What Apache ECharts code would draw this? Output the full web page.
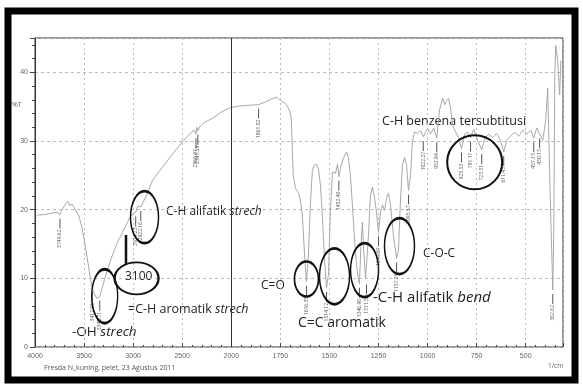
<!DOCTYPE html>
<html>
<head>
<meta charset="utf-8">
<script src="https://cdn.jsdelivr.net/npm/echarts@6/dist/echarts.min.js"></script>
<style>
  html, body { margin: 0; padding: 0; background: #fff; }
  #main { width: 583px; height: 385px; }
</style>
</head>
<body>
<div id="main"></div>
<script>
// spectrum: wavenumber (1/cm) and %T
const wavenumber = [
  3980, 3899, 3827, 3777, 3746, 3716, 3685, 3665, 3645, 3624, 3594, 3553, 3523, 3492, 3462, 3432,
  3417, 3401, 3371, 3340, 3310, 3269, 3218, 3158, 3097, 3036, 2995, 2974, 2955, 2922, 2894, 2860,
  2802, 2701, 2609, 2508, 2427, 2376, 2360, 2350, 2341, 2315, 2274, 2193, 2102, 2021, 1959, 1908,
  1861, 1832, 1796, 1770, 1750, 1724, 1704, 1694, 1689, 1684, 1673, 1658, 1648, 1638, 1628, 1617,
  1607, 1597, 1587, 1577, 1566, 1556, 1546, 1536, 1526, 1515, 1505, 1495, 1484, 1474, 1469, 1459,
  1452, 1444, 1429, 1413, 1403, 1393, 1383, 1372, 1362, 1352, 1347, 1340, 1332, 1325, 1316, 1311,
  1301, 1291, 1281, 1270, 1260, 1250, 1240, 1230, 1219, 1209, 1199, 1189, 1174, 1158, 1148, 1138,
  1128, 1117, 1107, 1097, 1087, 1077, 1066, 1051, 1036, 1022, 1010, 999, 985, 969, 953, 939,
  923, 913, 903, 893, 883, 872, 857, 842, 827, 811, 796, 781, 765, 745, 724, 709,
  689, 668, 648, 628, 612, 597, 577, 556, 536, 515, 495, 474, 459, 444, 429, 413,
  398, 388, 383, 372, 362, 357, 352, 347, 337, 327, 321
];
const transmittance = [
  19.2, 19.3, 19.5, 19.6, 19.3, 20.2, 20.9, 21.2, 20.6, 20.8, 20.1, 19.1, 17.5, 15.1, 12.4, 9.7,
  8.6, 7.9, 7.1, 7.3, 8.9, 10.9, 13.1, 15.3, 17.0, 18.8, 19.5, 19.6, 20.5, 20.4, 21.2, 22.2,
  24.3, 26.2, 27.9, 29.7, 31.0, 31.6, 31.0, 32.0, 31.5, 32.2, 32.7, 33.3, 34.2, 34.8, 35.1, 35.2,
  35.3, 35.6, 36.1, 36.4, 35.9, 35.5, 34.5, 33.3, 28.7, 25.0, 23.1, 22.5, 21.4, 19.2, 14.1, 9.5,
  13.4, 20.7, 25.7, 26.5, 26.6, 26.0, 23.6, 19.2, 13.4, 8.6, 10.5, 19.9, 25.5, 25.7, 25.3, 26.6,
  24.8, 26.0, 27.5, 28.4, 27.5, 25.0, 20.7, 15.6, 12.0, 9.8, 9.2, 14.5, 18.2, 14.0, 9.9, 9.7,
  16.3, 22.1, 23.3, 21.7, 19.6, 16.7, 19.6, 20.7, 19.9, 21.7, 22.4, 20.7, 16.3, 12.9, 14.1, 21.4,
  26.5, 27.6, 26.5, 22.8, 25.0, 30.1, 31.3, 31.1, 31.5, 30.6, 31.3, 31.8, 31.0, 31.9, 30.4, 34.5,
  36.2, 35.3, 35.9, 36.2, 34.8, 32.3, 31.3, 30.5, 28.9, 31.0, 31.3, 30.5, 31.7, 30.1, 28.7, 30.4,
  31.0, 30.5, 31.1, 30.1, 28.4, 30.1, 30.7, 31.3, 30.7, 31.6, 31.0, 31.6, 30.4, 31.9, 31.0, 30.1,
  33.0, 37.7, 31.6, 18.5, 8.3, 17.0, 38.8, 43.9, 41.7, 36.7, 41.7
];

// peak picks (small vertical labels under the minima)
const peakWn = [3746, 3417, 3340, 2974, 2922, 2360, 2341, 1861, 1617, 1515, 1452, 1347, 1311, 1250,
  1158, 1097, 1022, 953, 827, 781, 724, 612, 459, 429, 362];
const peakT = [19.3, 8.6, 7.3, 19.6, 20.4, 31.0, 31.5, 35.3, 9.5, 8.6, 24.8, 9.2, 9.7, 16.7,
  12.9, 22.8, 30.6, 30.4, 28.9, 30.5, 28.7, 28.4, 30.4, 31.0, 8.3];
const peakText = ['3749.62', '3417.86', '3340.71', '2974.23', '2922.16', '2360.87', '2341.58', '1861.02',
  '1616.35', '1514.12', '1452.40', '1346.90', '1311.59', '1249.87', '1157.29', '1095.57', '1022.27',
  '952.84', '825.53', '781.17', '723.31', '611.43', '457.13', '430.13', '362.62'];

// circled band groups (centres in wavenumber / %T)
const ovalWn = [3290, 2965, 2884, 1617, 1474, 1321, 1143, 760];
const ovalT = [7.4, 10.0, 18.9, 9.9, 10.3, 11.2, 14.7, 26.9];
const ovalSize = [[26, 54], [44, 32], [28, 52], [24, 35], [30, 56], [28, 54], [30, 56], [55, 54]];

const xTickLabels = [4000, 3500, 3000, 2500, 2000, 1750, 1500, 1250, 1000, 750, 500];

// Shimadzu style axis: 500/div above 2000, 250/div below
function toPos(w) {
  return w >= 2000 ? (4000 - w) / 500 : 4 + (2000 - w) / 250;
}
const xMax = toPos(310);

const chart = echarts.init(document.getElementById('main'));
const font = '"Open Sans", "Noto Sans", sans-serif';

chart.setOption({
  animation: false,
  backgroundColor: '#fff',
  grid: { left: 35, top: 38, right: 20, bottom: 38, show: true, borderColor: '#333', borderWidth: 1 },
  xAxis: {
    type: 'value',
    min: 0,
    max: xMax,
    interval: 1,
    axisLine: { show: false },
    axisTick: { inside: true, length: 4, lineStyle: { color: '#444' } },
    minorTick: { show: true, splitNumber: 5, length: 2, lineStyle: { color: '#444' } },
    axisLabel: {
      fontSize: 7,
      color: '#666',
      margin: 6,
      showMaxLabel: false,
      formatter: (v) => {
        const i = Math.round(v);
        return xTickLabels[i] !== undefined && Math.abs(v - i) < 1e-6 ? String(xTickLabels[i]) : '';
      },
    },
    splitLine: { show: true, lineStyle: { color: '#bbb', type: [2, 3], width: 1 } },
  },
  yAxis: {
    type: 'value',
    min: 0,
    max: 45,
    interval: 10,
    axisLine: { show: true, lineStyle: { color: '#333' } },
    axisTick: { show: true, length: 5, lineStyle: { color: '#444' } },
    minorTick: { show: true, splitNumber: 5, length: 3, lineStyle: { color: '#444' } },
    axisLabel: { fontSize: 7, color: '#666', margin: 7, showMaxLabel: false },
    splitLine: { show: true, lineStyle: { color: '#bbb', type: [3, 3], width: 1 } },
  },
  series: [
    {
      name: 'spektrum',
      type: 'line',
      data: wavenumber.map((w, i) => [toPos(w), transmittance[i]]),
      showSymbol: false,
      silent: true,
      lineStyle: { color: '#a8a8a8', width: 1 },
      z: 2,
      markLine: {
        silent: true,
        symbol: 'none',
        label: { show: false },
        lineStyle: { color: '#333', type: 'solid', width: 1 },
        data: [{ xAxis: toPos(2000) }],
      },
    },
    {
      name: 'puncak',
      type: 'scatter',
      data: peakWn.map((w, i) => ({ value: [toPos(w), peakT[i]], name: peakText[i] })),
      symbol: 'rect',
      symbolSize: [1, 10],
      symbolOffset: [0, 9],
      itemStyle: { color: '#555', opacity: 1 },
      silent: true,
      z: 3,
      label: {
        show: true,
        formatter: (p) => p.name,
        position: 'bottom',
        distance: 1,
        rotate: 90,
        align: 'right',
        verticalAlign: 'middle',
        fontSize: 5,
        color: '#555',
        fontFamily: font,
      },
    },
    {
      name: 'lingkaran',
      type: 'scatter',
      data: ovalWn.map((w, i) => ({ value: [toPos(w), ovalT[i]], symbolSize: ovalSize[i] })),
      symbol: 'circle',
      itemStyle: { color: 'rgba(0,0,0,0)', borderColor: '#111', borderWidth: 2, opacity: 1 },
      silent: true,
      z: 4,
    },
  ],
  graphic: [
    { type: 'rect', shape: { x: 8, y: 11, width: 567, height: 369 }, style: { fill: null, stroke: '#000', lineWidth: 7 }, z: 10 },
    { type: 'line', shape: { x1: 126, y1: 235, x2: 126, y2: 264 }, style: { stroke: '#111', lineWidth: 2.5 }, z: 10 },
    { type: 'text', left: 12, top: 101, style: { text: '%T', fontSize: 7, fill: '#666', fontFamily: font } },
    { type: 'text', left: 44, top: 364, style: { text: 'Fresda N_kuning, pelet, 23 Agustus 2011', fontSize: 7, fill: '#555', fontFamily: font } },
    { type: 'text', left: 548, top: 363, style: { text: '1/cm', fontSize: 6.5, fill: '#666', fontFamily: font } },
    { type: 'text', left: 125, top: 271, style: { text: '3100', fontSize: 12, fill: '#222', fontFamily: font } },
    {
      type: 'text', left: 166, top: 206,
      style: { text: '{n|C-H alifatik }{i|strech}', fill: '#222', fontFamily: font, fontSize: 12,
        rich: { n: { fontSize: 12, fontFamily: font, fill: '#222' }, i: { fontSize: 12, fontStyle: 'italic', fontFamily: font, fill: '#222' } } },
    },
    {
      type: 'text', left: 128, top: 303,
      style: { text: '{n|=C-H aromatik }{i|strech}', fill: '#222', fontFamily: font, fontSize: 12,
        rich: { n: { fontSize: 12.5, fontFamily: font, fill: '#222' }, i: { fontSize: 12.5, fontStyle: 'italic', fontFamily: font, fill: '#222' } } },
    },
    {
      type: 'text', left: 72, top: 325,
      style: { text: '{n|-OH }{i|strech}', fill: '#222', fontFamily: font, fontSize: 13,
        rich: { n: { fontSize: 13.5, fontFamily: font, fill: '#222' }, i: { fontSize: 13.5, fontStyle: 'italic', fontFamily: font, fill: '#222' } } },
    },
    { type: 'text', left: 261, top: 280, style: { text: 'C=O', fontSize: 12, fill: '#222', fontFamily: font } },
    { type: 'text', left: 298, top: 316, style: { text: 'C=C aromatik', fontSize: 14, fill: '#222', fontFamily: font } },
    {
      type: 'text', left: 373, top: 290,
      style: { text: '{n|-C-H alifatik }{i|bend}', fill: '#222', fontFamily: font, fontSize: 15,
        rich: { n: { fontSize: 15, fontFamily: font, fill: '#222' }, i: { fontSize: 15, fontStyle: 'italic', fontFamily: font, fill: '#222' } } },
    },
    { type: 'text', left: 423, top: 248, style: { text: 'C-O-C', fontSize: 12, fill: '#222', fontFamily: font } },
    { type: 'text', left: 382, top: 115, style: { text: 'C-H benzena tersubtitusi', fontSize: 12.5, fill: '#222', fontFamily: font } },
  ],
});
</script>
</body>
</html>
